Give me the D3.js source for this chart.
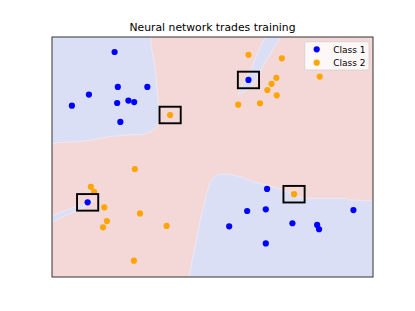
<!DOCTYPE html>
<html><head><meta charset="utf-8">
<script src="https://cdn.jsdelivr.net/npm/d3@7"></script>
<style>html,body{margin:0;padding:0;background:#fff;}svg{display:block;font-family:"DejaVu Sans",sans-serif;}</style>
</head><body>
<script>
const title = "Neural network trades training";
const seriesNames = ["Class 1", "Class 2"];
const seriesColors = ["#0000ff", "#ffa500"];
const class1X = [1.95,2.05,2.97,1.15,0.62,2.03,2.38,2.56,2.13,6.12,1.11,6.70,6.66,6.08,9.39,5.52,7.49,8.26,8.32,6.66];
const class1Y = [9.375,7.92,7.92,7.60,7.14,7.25,7.35,7.29,6.46,8.21,3.11,3.67,2.82,2.75,2.79,2.11,2.24,2.17,1.99,1.40];
const class2X = [3.68,6.12,7.16,8.34,6.99,6.84,6.71,7.00,6.48,5.80,2.58,1.21,1.31,1.63,2.74,1.71,1.59,3.57,2.55,7.54];
const class2Y = [6.75,9.26,9.11,8.35,8.30,8.05,7.79,7.57,7.24,7.18,4.50,3.76,3.55,2.90,2.65,2.33,2.07,2.13,0.68,3.45];
// highlighted points: [class index, point index]
const highlighted = [[1,0],[0,9],[0,10],[1,19]];
// decision regions predicted as Class 1 (rest is Class 2)
const regionTopLeft = [[0,10],[3.07,10],[3.10,9.53],[3.16,9.11],[3.21,8.70],[3.26,8.00],[3.31,7.30],[3.34,6.75],[3.31,6.40],[3.21,6.19],[3.05,6.05],[2.84,5.94],[2.39,5.92],[1.76,5.85],[1.25,5.71],[0.78,5.64],[0.16,5.60],[0,5.54]];
const regionWedge = [[6.64,10],[7.13,10],[6.84,9.39],[6.53,8.70],[6.38,8.28],[6.17,7.88],[5.79,7.58],[6.01,8.21],[6.22,8.70],[6.42,9.39]];
const regionSliver = [[0,2.56],[0.81,2.96],[1.28,3.21],[1.34,3.17],[0.87,2.83],[0,2.29]];
const regionBottomRight = [[4.25,0],[4.28,0.08],[4.40,0.92],[4.51,1.61],[4.63,2.45],[4.74,3.00],[4.82,3.49],[4.92,3.90],[5.02,4.14],[5.18,4.28],[5.55,4.28],[5.86,4.18],[6.27,3.97],[6.69,3.83],[7.21,3.63],[7.62,3.35],[7.83,3.28],[9.18,3.28],[9.28,3.21],[10,3.17],[10,0]];
const class1Regions = [regionTopLeft, regionWedge, regionSliver, regionBottomRight];
const xDomain = [0,10], yDomain = [0,10];

const W = 415, H = 311;
const m = {left:52, right:373, top:37, bottom:277};
const svg = d3.select("body").append("svg").attr("width",W).attr("height",H);
const x = d3.scaleLinear().domain(xDomain).range([m.left,m.right]);
const y = d3.scaleLinear().domain(yDomain).range([m.bottom,m.top]);

svg.append("rect").attr("x",m.left).attr("y",m.top).attr("width",m.right-m.left).attr("height",m.bottom-m.top).attr("fill","#f4d8d8");
const line = d3.line().x(d=>x(d[0])).y(d=>y(d[1])).curve(d3.curveLinearClosed);
svg.append("g").selectAll("path").data(class1Regions).join("path")
  .attr("d",line).attr("fill","#dadff5").attr("stroke","#eef0fa").attr("stroke-width",0.6);

const pts = [
  class1X.map((v,i)=>({x:v,y:class1Y[i],c:0})),
  class2X.map((v,i)=>({x:v,y:class2Y[i],c:1}))
];
const all = pts[0].concat(pts[1]);
svg.append("g").selectAll("circle").data(all).join("circle")
  .attr("cx",d=>x(d.x)).attr("cy",d=>y(d.y)).attr("r",3.1)
  .attr("fill",d=>seriesColors[d.c]);

const hw = 0.33, hh = 0.345;
svg.append("g").selectAll("rect").data(highlighted.map(h=>pts[h[0]][h[1]])).join("rect")
  .attr("x",d=>x(d.x-hw)).attr("y",d=>y(d.y+hh))
  .attr("width",d=>x(d.x+hw)-x(d.x-hw)).attr("height",d=>y(d.y-hh)-y(d.y+hh))
  .attr("fill","none").attr("stroke","#000").attr("stroke-width",1.9);

svg.append("rect").attr("x",m.left).attr("y",m.top).attr("width",m.right-m.left).attr("height",m.bottom-m.top)
  .attr("fill","none").attr("stroke","#333").attr("stroke-width",1);

svg.append("text").attr("x",(m.left+m.right)/2).attr("y",31).attr("text-anchor","middle")
  .attr("font-size","10.8px").attr("fill","#000").text(title);

const lg = svg.append("g");
lg.append("rect").attr("x",304.7).attr("y",41.7).attr("width",64.3).attr("height",28.3).attr("rx",2)
  .attr("fill","#fff").attr("fill-opacity",0.8).attr("stroke","#d0d0d0").attr("stroke-width",0.8);
seriesNames.forEach((n,i)=>{
  lg.append("circle").attr("cx",316.7).attr("cy",49.3+i*13.4).attr("r",3.1).attr("fill",seriesColors[i]);
  lg.append("text").attr("x",333.3).attr("y",49.3+i*13.4+3.3).attr("font-size","9px").attr("fill","#000").text(n);
});
</script>
</body></html>
